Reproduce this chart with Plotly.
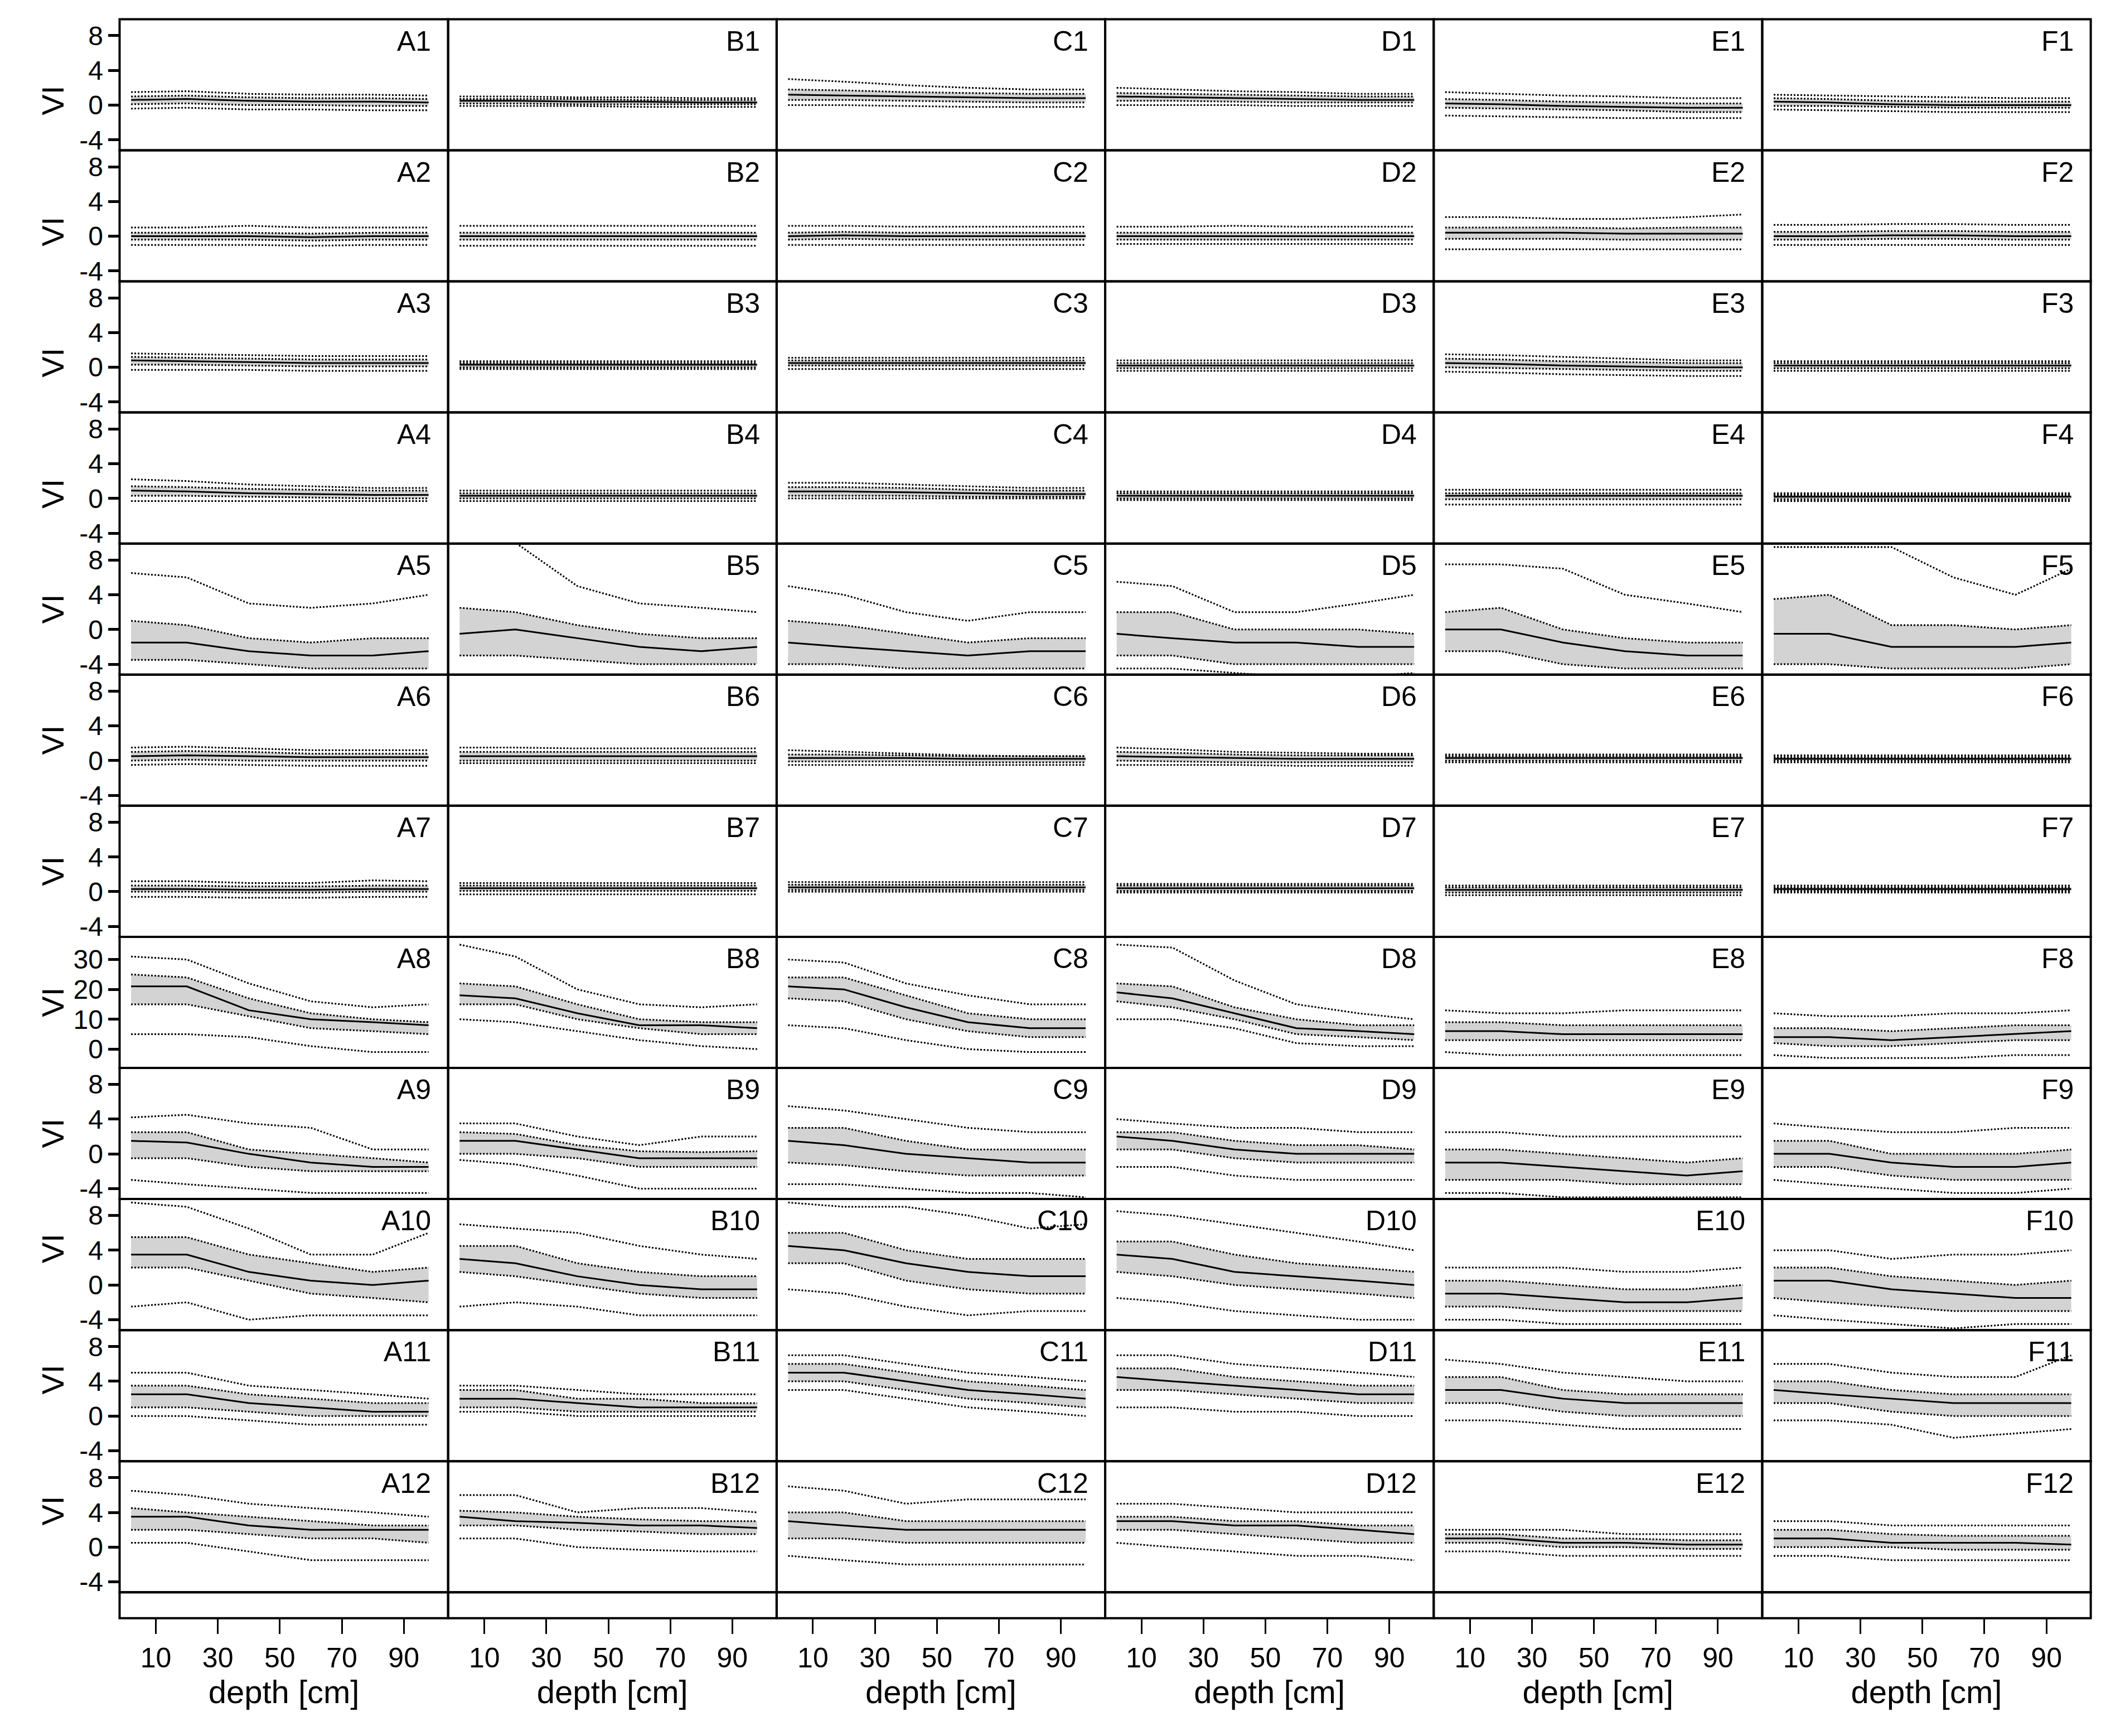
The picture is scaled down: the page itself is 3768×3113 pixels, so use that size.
import plotly.graph_objs as go

depth = [2, 20, 40, 60, 80, 98]
cols = ["A", "B", "C", "D", "E", "F"]
xticks = [10, 30, 50, 70, 90]

# median profile
med = {
    "A1": [0.6, 0.7, 0.5, 0.4, 0.4, 0.3], "B1": [0.5, 0.5, 0.4, 0.4, 0.3, 0.3],
    "C1": [1.2, 1.1, 1.0, 0.9, 0.8, 0.8], "D1": [1.0, 0.9, 0.8, 0.7, 0.6, 0.6],
    "E1": [0.2, 0.1, -0.1, -0.2, -0.3, -0.3], "F1": [0.4, 0.3, 0.1, 0.0, 0.0, 0.0],
    "A2": [0.0, 0.0, 0.0, -0.1, 0.0, 0.0], "B2": [0.0, 0.0, 0.0, 0.0, 0.0, 0.0],
    "C2": [0.0, 0.1, 0.0, 0.0, 0.0, 0.0], "D2": [0.0, 0.0, 0.0, 0.0, 0.0, 0.0],
    "E2": [0.4, 0.4, 0.4, 0.3, 0.3, 0.3], "F2": [0.0, 0.0, 0.1, 0.1, 0.0, 0.0],
    "A3": [0.8, 0.7, 0.6, 0.5, 0.5, 0.5], "B3": [0.3, 0.3, 0.3, 0.3, 0.3, 0.3],
    "C3": [0.5, 0.5, 0.5, 0.5, 0.5, 0.5], "D3": [0.2, 0.2, 0.2, 0.2, 0.2, 0.2],
    "E3": [0.5, 0.4, 0.2, 0.1, 0.0, 0.0], "F3": [0.2, 0.2, 0.2, 0.2, 0.2, 0.2],
    "A4": [0.9, 0.8, 0.6, 0.5, 0.4, 0.4], "B4": [0.3, 0.3, 0.3, 0.3, 0.3, 0.3],
    "C4": [0.8, 0.8, 0.7, 0.6, 0.5, 0.5], "D4": [0.3, 0.3, 0.3, 0.3, 0.3, 0.3],
    "E4": [0.3, 0.3, 0.3, 0.3, 0.3, 0.3], "F4": [0.2, 0.2, 0.2, 0.2, 0.2, 0.2],
    "A5": [-1.5, -1.5, -2.5, -3.0, -3.0, -2.5], "B5": [-0.5, 0.0, -1.0, -2.0, -2.5, -2.0],
    "C5": [-1.5, -2.0, -2.5, -3.0, -2.5, -2.5], "D5": [-0.5, -1.0, -1.5, -1.5, -2.0, -2.0],
    "E5": [0.0, 0.0, -1.5, -2.5, -3.0, -3.0], "F5": [-0.5, -0.5, -2.0, -2.0, -2.0, -1.5],
    "A6": [0.5, 0.6, 0.5, 0.4, 0.4, 0.4], "B6": [0.5, 0.5, 0.5, 0.5, 0.5, 0.5],
    "C6": [0.3, 0.3, 0.3, 0.2, 0.2, 0.2], "D6": [0.5, 0.4, 0.3, 0.2, 0.2, 0.2],
    "E6": [0.3, 0.3, 0.3, 0.3, 0.3, 0.3], "F6": [0.2, 0.2, 0.2, 0.2, 0.2, 0.2],
    "A7": [0.3, 0.3, 0.2, 0.2, 0.3, 0.3], "B7": [0.4, 0.4, 0.4, 0.4, 0.4, 0.4],
    "C7": [0.5, 0.5, 0.5, 0.5, 0.5, 0.5], "D7": [0.4, 0.4, 0.4, 0.4, 0.4, 0.4],
    "E7": [0.2, 0.2, 0.2, 0.2, 0.2, 0.2], "F7": [0.3, 0.3, 0.3, 0.3, 0.3, 0.3],
    "A8": [21, 21, 13, 10, 9, 8], "B8": [18, 17, 12, 8, 8, 7],
    "C8": [21, 20, 14, 9, 7, 7], "D8": [19, 17, 12, 7, 6, 5],
    "E8": [6, 6, 5, 5, 5, 5], "F8": [4, 4, 3, 4, 5, 6],
    "A9": [1.5, 1.3, 0.0, -1.0, -1.5, -1.5], "B9": [1.5, 1.5, 0.5, -0.5, -0.5, -0.5],
    "C9": [1.5, 1.0, 0.0, -0.5, -1.0, -1.0], "D9": [2.0, 1.5, 0.5, 0.0, 0.0, 0.0],
    "E9": [-1.0, -1.0, -1.5, -2.0, -2.5, -2.0], "F9": [0.0, 0.0, -1.0, -1.5, -1.5, -1.0],
    "A10": [3.5, 3.5, 1.5, 0.5, 0.0, 0.5], "B10": [3.0, 2.5, 1.0, 0.0, -0.5, -0.5],
    "C10": [4.5, 4.0, 2.5, 1.5, 1.0, 1.0], "D10": [3.5, 3.0, 1.5, 1.0, 0.5, 0.0],
    "E10": [-1.0, -1.0, -1.5, -2.0, -2.0, -1.5], "F10": [0.5, 0.5, -0.5, -1.0, -1.5, -1.5],
    "A11": [2.5, 2.5, 1.5, 1.0, 0.5, 0.5], "B11": [2.0, 2.0, 1.5, 1.0, 1.0, 1.0],
    "C11": [5.0, 5.0, 4.0, 3.0, 2.5, 2.0], "D11": [4.5, 4.0, 3.5, 3.0, 2.5, 2.5],
    "E11": [3.0, 3.0, 2.0, 1.5, 1.5, 1.5], "F11": [3.0, 2.5, 2.0, 1.5, 1.5, 1.5],
    "A12": [3.5, 3.5, 2.5, 2.0, 2.0, 2.0], "B12": [3.5, 3.0, 2.8, 2.5, 2.5, 2.2],
    "C12": [3.0, 2.5, 2.0, 2.0, 2.0, 2.0], "D12": [3.0, 3.0, 2.5, 2.5, 2.0, 1.5],
    "E12": [1.0, 1.0, 0.5, 0.5, 0.3, 0.3], "F12": [1.0, 1.0, 0.5, 0.5, 0.5, 0.3],
}

# lower quartile
q1 = {
    "A1": [0.1, 0.2, 0.0, 0.0, -0.1, -0.1], "B1": [0.2, 0.2, 0.1, 0.1, 0.1, 0.1],
    "C1": [0.6, 0.6, 0.5, 0.4, 0.3, 0.3], "D1": [0.5, 0.5, 0.4, 0.3, 0.3, 0.3],
    "E1": [-0.3, -0.4, -0.5, -0.6, -0.8, -0.8], "F1": [-0.1, -0.1, -0.2, -0.3, -0.3, -0.3],
    "A2": [-0.4, -0.4, -0.4, -0.5, -0.4, -0.4], "B2": [-0.4, -0.4, -0.4, -0.4, -0.4, -0.4],
    "C2": [-0.4, -0.3, -0.4, -0.4, -0.4, -0.4], "D2": [-0.4, -0.4, -0.4, -0.4, -0.4, -0.4],
    "E2": [-0.3, -0.3, -0.3, -0.4, -0.4, -0.4], "F2": [-0.4, -0.4, -0.3, -0.3, -0.4, -0.4],
    "A3": [0.3, 0.3, 0.2, 0.1, 0.1, 0.1], "B3": [0.0, 0.0, 0.0, 0.0, 0.0, 0.0],
    "C3": [0.2, 0.2, 0.2, 0.2, 0.2, 0.2], "D3": [-0.1, -0.1, -0.1, -0.1, -0.1, -0.1],
    "E3": [0.0, -0.1, -0.2, -0.3, -0.4, -0.4], "F3": [-0.1, -0.1, -0.1, -0.1, -0.1, -0.1],
    "A4": [0.3, 0.3, 0.2, 0.1, 0.0, 0.0], "B4": [0.0, 0.0, 0.0, 0.0, 0.0, 0.0],
    "C4": [0.3, 0.3, 0.3, 0.2, 0.2, 0.2], "D4": [0.0, 0.0, 0.0, 0.0, 0.0, 0.0],
    "E4": [-0.1, -0.1, -0.1, -0.1, -0.1, -0.1], "F4": [-0.1, -0.1, -0.1, -0.1, -0.1, -0.1],
    "A5": [-3.5, -3.5, -4.0, -4.5, -4.5, -4.5], "B5": [-3.0, -3.0, -3.5, -4.0, -4.0, -4.0],
    "C5": [-4.0, -4.0, -4.5, -4.5, -4.5, -4.5], "D5": [-3.0, -3.0, -4.0, -4.0, -4.0, -4.0],
    "E5": [-2.5, -2.5, -4.0, -4.5, -4.5, -4.5], "F5": [-4.0, -4.0, -4.5, -4.5, -4.5, -4.0],
    "A6": [0.0, 0.1, 0.0, 0.0, 0.0, 0.0], "B6": [0.0, 0.0, 0.0, 0.0, 0.0, 0.0],
    "C6": [-0.1, -0.1, -0.1, -0.2, -0.2, -0.2], "D6": [0.0, -0.1, -0.2, -0.2, -0.2, -0.2],
    "E6": [0.0, 0.0, 0.0, 0.0, 0.0, 0.0], "F6": [0.0, 0.0, 0.0, 0.0, 0.0, 0.0],
    "A7": [0.0, 0.0, -0.1, -0.1, 0.0, 0.0], "B7": [0.1, 0.1, 0.1, 0.1, 0.1, 0.1],
    "C7": [0.2, 0.2, 0.2, 0.2, 0.2, 0.2], "D7": [0.1, 0.1, 0.1, 0.1, 0.1, 0.1],
    "E7": [-0.1, -0.1, -0.1, -0.1, -0.1, -0.1], "F7": [0.1, 0.1, 0.1, 0.1, 0.1, 0.1],
    "A8": [15, 15, 11, 7, 6, 5], "B8": [15, 15, 10, 7, 5, 5],
    "C8": [17, 16, 10, 6, 4, 4], "D8": [16, 14, 10, 5, 4, 3],
    "E8": [3, 3, 3, 3, 3, 3], "F8": [2, 1, 1, 2, 3, 3],
    "A9": [-0.5, -0.5, -1.5, -2.0, -2.0, -2.0], "B9": [0.0, 0.0, -0.5, -1.5, -1.5, -1.5],
    "C9": [-1.0, -1.3, -2.0, -2.5, -2.5, -2.5], "D9": [0.5, 0.5, -0.5, -1.0, -1.0, -1.0],
    "E9": [-3.0, -3.0, -3.0, -3.5, -3.5, -3.5], "F9": [-1.5, -1.5, -2.5, -3.0, -3.0, -3.0],
    "A10": [2.0, 2.0, 0.5, -1.0, -1.5, -2.0], "B10": [1.5, 1.0, 0.0, -1.0, -1.5, -1.5],
    "C10": [2.5, 2.5, 0.5, -0.5, -1.0, -1.0], "D10": [1.5, 1.0, 0.0, -0.5, -1.0, -1.5],
    "E10": [-2.5, -2.5, -3.0, -3.0, -3.0, -3.0], "F10": [-1.5, -2.0, -2.5, -3.0, -3.0, -3.0],
    "A11": [1.0, 1.0, 0.5, 0.0, 0.0, 0.0], "B11": [1.0, 1.0, 0.5, 0.5, 0.5, 0.5],
    "C11": [4.0, 4.0, 3.0, 2.0, 1.5, 1.0], "D11": [3.0, 3.0, 2.5, 2.0, 1.5, 1.5],
    "E11": [1.5, 1.5, 0.5, 0.0, 0.0, 0.0], "F11": [1.5, 1.5, 0.5, 0.0, 0.0, 0.0],
    "A12": [2.0, 2.0, 1.5, 1.0, 1.0, 0.5], "B12": [2.5, 2.5, 2.0, 1.8, 1.5, 1.5],
    "C12": [1.0, 1.0, 0.5, 0.5, 0.5, 0.5], "D12": [2.0, 2.0, 1.5, 1.0, 0.5, 0.5],
    "E12": [0.5, 0.5, 0.0, 0.0, -0.2, -0.2], "F12": [0.0, 0.0, 0.0, -0.3, -0.3, -0.3],
}

# upper quartile
q3 = {
    "A1": [1.0, 1.1, 0.9, 0.8, 0.8, 0.7], "B1": [0.7, 0.7, 0.7, 0.6, 0.6, 0.6],
    "C1": [1.8, 1.7, 1.5, 1.4, 1.3, 1.3], "D1": [1.4, 1.3, 1.2, 1.1, 1.0, 1.0],
    "E1": [0.7, 0.6, 0.4, 0.3, 0.2, 0.2], "F1": [0.8, 0.7, 0.5, 0.4, 0.4, 0.4],
    "A2": [0.4, 0.4, 0.4, 0.3, 0.4, 0.4], "B2": [0.4, 0.4, 0.4, 0.4, 0.4, 0.4],
    "C2": [0.4, 0.5, 0.4, 0.4, 0.4, 0.4], "D2": [0.4, 0.4, 0.4, 0.4, 0.4, 0.4],
    "E2": [1.0, 1.0, 1.0, 0.9, 1.0, 1.0], "F2": [0.5, 0.5, 0.6, 0.6, 0.5, 0.5],
    "A3": [1.2, 1.1, 1.0, 0.9, 0.9, 0.9], "B3": [0.5, 0.5, 0.5, 0.5, 0.5, 0.5],
    "C3": [0.8, 0.8, 0.8, 0.8, 0.8, 0.8], "D3": [0.5, 0.5, 0.5, 0.5, 0.5, 0.5],
    "E3": [1.0, 0.9, 0.7, 0.6, 0.5, 0.5], "F3": [0.5, 0.5, 0.5, 0.5, 0.5, 0.5],
    "A4": [1.4, 1.3, 1.1, 1.0, 0.9, 0.9], "B4": [0.6, 0.6, 0.6, 0.6, 0.6, 0.6],
    "C4": [1.3, 1.3, 1.2, 1.0, 0.9, 0.9], "D4": [0.6, 0.6, 0.6, 0.6, 0.6, 0.6],
    "E4": [0.6, 0.6, 0.6, 0.6, 0.6, 0.6], "F4": [0.4, 0.4, 0.4, 0.4, 0.4, 0.4],
    "A5": [1.0, 0.5, -1.0, -1.5, -1.0, -1.0], "B5": [2.5, 2.0, 0.5, -0.5, -1.0, -1.0],
    "C5": [1.0, 0.5, -0.5, -1.5, -1.0, -1.0], "D5": [2.0, 2.0, 0.0, 0.0, 0.0, -0.5],
    "E5": [2.0, 2.5, 0.0, -1.0, -1.5, -1.5], "F5": [3.5, 4.0, 0.5, 0.5, 0.0, 0.5],
    "A6": [1.0, 1.1, 1.0, 0.8, 0.8, 0.8], "B6": [1.0, 1.0, 1.0, 1.0, 1.0, 1.0],
    "C6": [0.7, 0.7, 0.6, 0.5, 0.5, 0.5], "D6": [1.0, 0.9, 0.7, 0.6, 0.6, 0.6],
    "E6": [0.5, 0.5, 0.5, 0.5, 0.5, 0.5], "F6": [0.4, 0.4, 0.4, 0.4, 0.4, 0.4],
    "A7": [0.7, 0.7, 0.6, 0.6, 0.7, 0.7], "B7": [0.7, 0.7, 0.7, 0.7, 0.7, 0.7],
    "C7": [0.8, 0.8, 0.8, 0.8, 0.8, 0.8], "D7": [0.7, 0.7, 0.7, 0.7, 0.7, 0.7],
    "E7": [0.5, 0.5, 0.5, 0.5, 0.5, 0.5], "F7": [0.5, 0.5, 0.5, 0.5, 0.5, 0.5],
    "A8": [25, 24, 17, 12, 10, 9], "B8": [22, 21, 15, 10, 9, 9],
    "C8": [24, 24, 18, 12, 10, 10], "D8": [22, 21, 14, 10, 8, 8],
    "E8": [9, 9, 8, 8, 8, 8], "F8": [7, 7, 6, 7, 8, 8],
    "A9": [2.5, 2.5, 0.5, 0.0, -0.5, -1.0], "B9": [2.5, 2.3, 1.0, 0.3, 0.2, 0.3],
    "C9": [3.0, 3.0, 1.5, 0.5, 0.5, 0.5], "D9": [2.5, 2.5, 1.5, 1.0, 1.0, 0.5],
    "E9": [0.5, 0.5, 0.0, -0.5, -1.0, -0.5], "F9": [1.5, 1.5, 0.0, 0.0, 0.0, 0.5],
    "A10": [5.5, 5.5, 3.5, 2.5, 1.5, 2.0], "B10": [4.5, 4.5, 2.5, 1.5, 1.0, 1.0],
    "C10": [6.0, 6.0, 4.0, 3.0, 3.0, 3.0], "D10": [5.0, 5.0, 3.5, 2.5, 2.0, 1.5],
    "E10": [0.5, 0.5, 0.0, -0.5, -0.5, 0.0], "F10": [2.0, 2.0, 1.0, 0.5, 0.0, 0.5],
    "A11": [3.5, 3.5, 2.5, 2.0, 1.5, 1.5], "B11": [3.0, 3.0, 2.0, 2.0, 1.5, 1.5],
    "C11": [6.0, 6.0, 5.0, 4.0, 3.5, 3.0], "D11": [5.5, 5.5, 4.5, 4.0, 3.5, 3.5],
    "E11": [4.5, 4.5, 3.0, 2.5, 2.5, 2.5], "F11": [4.0, 4.0, 3.0, 2.5, 2.5, 2.5],
    "A12": [4.5, 4.0, 3.5, 3.0, 2.5, 2.5], "B12": [4.2, 4.0, 3.5, 3.2, 3.0, 3.0],
    "C12": [4.0, 4.0, 3.0, 3.0, 3.0, 3.0], "D12": [3.5, 3.5, 3.0, 3.0, 2.5, 2.5],
    "E12": [1.5, 1.5, 1.0, 1.0, 0.8, 0.8], "F12": [2.0, 2.0, 1.5, 1.3, 1.3, 1.3],
}

# lower whisker (dotted)
lo = {
    "A1": [-0.4, -0.3, -0.5, -0.5, -0.6, -0.6], "B1": [-0.1, -0.1, -0.1, -0.2, -0.2, -0.2],
    "C1": [0.0, 0.0, -0.1, -0.2, -0.2, -0.2], "D1": [0.0, 0.0, 0.0, -0.1, -0.1, -0.1],
    "E1": [-1.2, -1.3, -1.4, -1.5, -1.5, -1.5], "F1": [-0.5, -0.6, -0.7, -0.8, -0.8, -0.8],
    "A2": [-1.0, -1.0, -1.0, -1.1, -1.0, -1.0], "B2": [-1.1, -1.1, -1.1, -1.1, -1.1, -1.1],
    "C2": [-1.0, -1.0, -1.0, -1.0, -1.0, -1.0], "D2": [-0.9, -0.9, -0.9, -0.9, -0.9, -0.9],
    "E2": [-1.5, -1.5, -1.5, -1.5, -1.5, -1.5], "F2": [-1.0, -1.0, -1.0, -1.0, -1.0, -1.0],
    "A3": [-0.3, -0.3, -0.3, -0.4, -0.4, -0.4], "B3": [-0.2, -0.2, -0.2, -0.2, -0.2, -0.2],
    "C3": [-0.2, -0.2, -0.2, -0.2, -0.2, -0.2], "D3": [-0.4, -0.4, -0.4, -0.4, -0.4, -0.4],
    "E3": [-0.5, -0.6, -0.8, -0.9, -1.0, -1.0], "F3": [-0.4, -0.4, -0.4, -0.4, -0.4, -0.4],
    "A4": [-0.3, -0.3, -0.3, -0.3, -0.3, -0.3], "B4": [-0.3, -0.3, -0.3, -0.3, -0.3, -0.3],
    "C4": [0.0, 0.0, 0.0, 0.0, 0.0, 0.0], "D4": [-0.2, -0.2, -0.2, -0.2, -0.2, -0.2],
    "E4": [-0.7, -0.7, -0.7, -0.7, -0.7, -0.7], "F4": [-0.3, -0.3, -0.3, -0.3, -0.3, -0.3],
    "A5": [-5.5, -5.5, -5.5, -5.5, -5.5, -5.5], "B5": [-6.0, -6.0, -6.0, -6.0, -6.0, -6.0],
    "C5": [-6.0, -6.0, -6.0, -6.0, -6.0, -6.0], "D5": [-4.5, -4.5, -5.0, -5.5, -5.5, -5.0],
    "E5": [-5.5, -5.5, -5.5, -5.5, -5.5, -5.5], "F5": [-5.5, -5.5, -5.5, -5.5, -5.5, -5.5],
    "A6": [-0.5, -0.4, -0.5, -0.6, -0.6, -0.6], "B6": [-0.3, -0.3, -0.3, -0.3, -0.3, -0.3],
    "C6": [-0.5, -0.5, -0.5, -0.5, -0.5, -0.5], "D6": [-0.5, -0.5, -0.5, -0.6, -0.6, -0.6],
    "E6": [-0.2, -0.2, -0.2, -0.2, -0.2, -0.2], "F6": [-0.2, -0.2, -0.2, -0.2, -0.2, -0.2],
    "A7": [-0.6, -0.6, -0.7, -0.7, -0.6, -0.6], "B7": [-0.3, -0.3, -0.3, -0.3, -0.3, -0.3],
    "C7": [0.0, 0.0, 0.0, 0.0, 0.0, 0.0], "D7": [-0.1, -0.1, -0.1, -0.1, -0.1, -0.1],
    "E7": [-0.4, -0.4, -0.4, -0.4, -0.4, -0.4], "F7": [-0.1, -0.1, -0.1, -0.1, -0.1, -0.1],
    "A8": [5, 5, 4, 1, -1, -1], "B8": [10, 9, 6, 3, 1, 0],
    "C8": [8, 7, 3, 0, -1, -1], "D8": [10, 10, 7, 2, 1, 1],
    "E8": [-1, -2, -2, -2, -2, -2], "F8": [-2, -3, -3, -3, -2, -2],
    "A9": [-3.0, -3.5, -4.0, -4.5, -4.5, -4.5], "B9": [-0.7, -1.2, -2.5, -4.0, -4.0, -4.0],
    "C9": [-3.5, -3.5, -4.0, -4.5, -4.5, -5.0], "D9": [-1.5, -1.5, -2.5, -3.0, -3.0, -3.0],
    "E9": [-4.5, -4.5, -5.0, -5.0, -5.0, -5.0], "F9": [-3.0, -3.5, -4.0, -4.5, -4.5, -4.0],
    "A10": [-2.5, -2.0, -4.0, -3.5, -3.5, -3.5], "B10": [-2.5, -2.0, -2.5, -3.5, -3.5, -3.5],
    "C10": [-0.5, -1.0, -2.5, -3.5, -3.0, -3.0], "D10": [-1.5, -2.0, -3.0, -3.5, -4.0, -4.0],
    "E10": [-4.0, -4.0, -4.5, -4.5, -4.5, -4.5], "F10": [-3.5, -4.0, -4.5, -5.0, -4.5, -4.5],
    "A11": [0.0, 0.0, -0.5, -1.0, -1.0, -1.0], "B11": [0.5, 0.5, 0.0, 0.0, 0.0, 0.0],
    "C11": [3.0, 3.0, 2.0, 1.0, 0.5, 0.0], "D11": [1.0, 1.0, 0.5, 0.5, 0.0, 0.0],
    "E11": [-0.5, -0.5, -1.0, -1.5, -1.5, -1.5], "F11": [-0.5, -0.5, -1.0, -2.5, -2.0, -1.5],
    "A12": [0.5, 0.5, -0.5, -1.5, -1.5, -1.5], "B12": [1.0, 1.0, 0.0, -0.3, -0.5, -0.5],
    "C12": [-1.0, -1.5, -2.0, -2.0, -2.0, -2.0], "D12": [0.5, 0.0, -0.5, -1.0, -1.0, -1.5],
    "E12": [-0.5, -0.5, -1.0, -1.0, -1.0, -1.0], "F12": [-1.0, -1.0, -1.5, -1.5, -1.5, -1.5],
}

# upper whisker (dotted)
hi = {
    "A1": [1.5, 1.6, 1.3, 1.2, 1.2, 1.1], "B1": [1.0, 1.0, 0.9, 0.9, 0.8, 0.8],
    "C1": [3.0, 2.7, 2.3, 2.0, 1.8, 1.8], "D1": [2.0, 1.8, 1.6, 1.5, 1.3, 1.3],
    "E1": [1.5, 1.3, 1.1, 1.0, 0.8, 0.8], "F1": [1.2, 1.1, 1.0, 0.9, 0.8, 0.8],
    "A2": [1.0, 1.0, 1.2, 1.0, 1.0, 1.0], "B2": [1.2, 1.2, 1.2, 1.2, 1.2, 1.2],
    "C2": [1.2, 1.2, 1.1, 1.1, 1.1, 1.1], "D2": [1.1, 1.1, 1.2, 1.1, 1.1, 1.1],
    "E2": [2.2, 2.2, 2.0, 2.0, 2.2, 2.5], "F2": [1.3, 1.3, 1.4, 1.4, 1.3, 1.3],
    "A3": [1.6, 1.5, 1.4, 1.3, 1.3, 1.3], "B3": [0.7, 0.7, 0.7, 0.7, 0.7, 0.7],
    "C3": [1.1, 1.1, 1.1, 1.1, 1.1, 1.1], "D3": [0.8, 0.8, 0.8, 0.8, 0.8, 0.8],
    "E3": [1.5, 1.4, 1.2, 1.0, 0.8, 0.8], "F3": [0.7, 0.7, 0.7, 0.7, 0.7, 0.7],
    "A4": [2.2, 2.0, 1.6, 1.4, 1.2, 1.2], "B4": [0.9, 0.9, 0.9, 0.9, 0.9, 0.9],
    "C4": [1.8, 1.8, 1.6, 1.4, 1.2, 1.2], "D4": [0.8, 0.8, 0.8, 0.8, 0.8, 0.8],
    "E4": [1.0, 1.0, 1.0, 1.0, 1.0, 1.0], "F4": [0.6, 0.6, 0.6, 0.6, 0.6, 0.6],
    "A5": [6.5, 6.0, 3.0, 2.5, 3.0, 4.0], "B5": [10.0, 10.0, 5.0, 3.0, 2.5, 2.0],
    "C5": [5.0, 4.0, 2.0, 1.0, 2.0, 2.0], "D5": [5.5, 5.0, 2.0, 2.0, 3.0, 4.0],
    "E5": [7.5, 7.5, 7.0, 4.0, 3.0, 2.0], "F5": [9.5, 9.5, 9.5, 6.0, 4.0, 7.0],
    "A6": [1.5, 1.6, 1.4, 1.2, 1.2, 1.2], "B6": [1.5, 1.5, 1.4, 1.4, 1.4, 1.4],
    "C6": [1.2, 1.0, 0.8, 0.6, 0.5, 0.5], "D6": [1.5, 1.3, 1.0, 0.9, 0.8, 0.8],
    "E6": [0.7, 0.7, 0.7, 0.7, 0.7, 0.7], "F6": [0.6, 0.6, 0.6, 0.6, 0.6, 0.6],
    "A7": [1.2, 1.2, 1.0, 1.0, 1.3, 1.2], "B7": [1.0, 1.0, 1.0, 1.0, 1.0, 1.0],
    "C7": [1.1, 1.1, 1.1, 1.1, 1.1, 1.1], "D7": [0.9, 0.9, 0.9, 0.9, 0.9, 0.9],
    "E7": [0.7, 0.7, 0.7, 0.7, 0.7, 0.7], "F7": [0.7, 0.7, 0.7, 0.7, 0.7, 0.7],
    "A8": [31, 30, 22, 16, 14, 15], "B8": [35, 31, 20, 15, 14, 15],
    "C8": [30, 29, 22, 18, 15, 15], "D8": [35, 34, 23, 15, 12, 10],
    "E8": [13, 12, 12, 13, 13, 13], "F8": [12, 11, 11, 12, 12, 13],
    "A9": [4.2, 4.5, 3.5, 3.0, 0.5, 0.5], "B9": [3.5, 3.5, 2.0, 1.0, 2.0, 2.0],
    "C9": [5.5, 5.0, 4.0, 3.0, 2.5, 2.5], "D9": [4.0, 3.5, 3.0, 3.0, 2.5, 2.5],
    "E9": [2.5, 2.5, 2.0, 2.0, 2.0, 2.0], "F9": [3.5, 3.0, 2.5, 2.5, 3.0, 3.0],
    "A10": [9.5, 9.0, 6.5, 3.5, 3.5, 6.0], "B10": [7.0, 6.5, 6.0, 4.5, 3.5, 3.0],
    "C10": [9.5, 9.0, 9.0, 8.0, 6.5, 7.0], "D10": [8.5, 8.0, 7.0, 6.0, 5.0, 4.0],
    "E10": [2.0, 2.0, 2.0, 1.5, 1.5, 2.0], "F10": [4.0, 4.0, 3.0, 3.5, 3.5, 4.0],
    "A11": [5.0, 5.0, 3.5, 3.0, 2.5, 2.0], "B11": [3.5, 3.5, 3.0, 2.5, 2.5, 2.5],
    "C11": [7.0, 7.0, 6.0, 5.0, 4.5, 4.0], "D11": [7.0, 7.0, 6.0, 5.5, 5.0, 4.5],
    "E11": [6.5, 6.0, 5.0, 4.5, 4.0, 4.0], "F11": [6.0, 6.0, 5.0, 4.5, 4.5, 7.0],
    "A12": [6.5, 6.0, 5.0, 4.5, 4.0, 3.5], "B12": [6.0, 6.0, 4.0, 4.5, 4.5, 4.0],
    "C12": [7.0, 6.5, 5.0, 5.5, 5.5, 5.5], "D12": [5.0, 5.0, 4.5, 4.0, 4.0, 4.0],
    "E12": [2.0, 2.0, 2.0, 1.5, 1.5, 1.5], "F12": [3.0, 3.0, 2.5, 2.5, 2.5, 2.5],
}

W, H = 3768, 3113
FONT = "Liberation Sans"
x0, x1 = 0.0548, 0.993
ytop, ybot, ystrip = 0.9915, 0.083, 0.068
cw = (x1 - x0) / 6
rh = (ytop - ybot) / 12
xr = [-1.7, 104.3]

fig = go.Figure()
layout = {}
shapes = []
annots = []

for r in range(12):
    row = r + 1
    yd = [ytop - (r + 1) * rh, ytop - r * rh]
    if row == 8:
        yrange, yticks = [-6.3, 37.6], [0, 10, 20, 30]
    else:
        yrange, yticks = [-5.2, 9.9], [-4, 0, 4, 8]
    for c in range(6):
        k = r * 6 + c + 1
        name = f"{cols[c]}{row}"
        xa, ya = f"x{k}", f"y{k}"
        xd = [x0 + c * cw, x0 + (c + 1) * cw]
        layout[f"xaxis{k}"] = dict(domain=xd, range=xr, anchor=ya, showticklabels=False,
                                   ticks="", showgrid=False, zeroline=False, showline=False)
        layout[f"yaxis{k}"] = dict(domain=yd, range=yrange, anchor=xa, showgrid=False,
                                   zeroline=False, showline=False,
                                   tickvals=yticks if c == 0 else None,
                                   ticktext=[str(v) for v in yticks] if c == 0 else None,
                                   ticks="outside" if c == 0 else "",
                                   ticklen=19, tickwidth=5, tickcolor="black",
                                   showticklabels=(c == 0),
                                   tickfont=dict(family=FONT, size=48, color="black"))
        # IQR band
        fig.add_trace(go.Scatter(x=depth, y=q1[name], xaxis=xa, yaxis=ya, mode="lines",
                                 line=dict(color="black", width=3, dash="dot"), showlegend=False))
        fig.add_trace(go.Scatter(x=depth, y=q3[name], xaxis=xa, yaxis=ya, mode="lines",
                                 fill="tonexty", fillcolor="#d3d3d3",
                                 line=dict(color="black", width=3, dash="dot"), showlegend=False))
        for s in (lo, hi):
            fig.add_trace(go.Scatter(x=depth, y=s[name], xaxis=xa, yaxis=ya, mode="lines",
                                     line=dict(color="black", width=3, dash="dot"), showlegend=False))
        fig.add_trace(go.Scatter(x=depth, y=med[name], xaxis=xa, yaxis=ya, mode="lines",
                                 line=dict(color="black", width=3), showlegend=False))
        annots.append(dict(x=xd[1] - 0.0075, y=yd[1] - 0.003, xref="paper", yref="paper",
                           text=name, showarrow=False, xanchor="right", yanchor="top",
                           font=dict(family=FONT, size=50, color="black")))
        shapes.append(dict(type="rect", xref="paper", yref="paper", x0=xd[0], x1=xd[1],
                           y0=yd[0], y1=yd[1], line=dict(color="black", width=4)))
    annots.append(dict(x=0.014, y=(yd[0] + yd[1]) / 2, xref="paper", yref="paper",
                       text="VI", textangle=-90, showarrow=False,
                       font=dict(family=FONT, size=56, color="black")))

# bottom strip carrying the depth axis
for c in range(6):
    k = 73 + c
    xd = [x0 + c * cw, x0 + (c + 1) * cw]
    layout[f"xaxis{k}"] = dict(domain=xd, range=xr, anchor=f"y{k}", tickvals=xticks,
                               ticks="outside", ticklen=27, tickwidth=3, tickcolor="black",
                               showgrid=False, zeroline=False, showline=False,
                               tickfont=dict(family=FONT, size=50, color="black"),
                               title=dict(text="depth [cm]", standoff=8,
                                          font=dict(family=FONT, size=58, color="black")))
    layout[f"yaxis{k}"] = dict(domain=[ystrip, ybot], range=[0, 1], anchor=f"x{k}",
                               visible=False)
    fig.add_trace(go.Scatter(x=[50], y=[-5], xaxis=f"x{k}", yaxis=f"y{k}", mode="markers",
                             marker=dict(opacity=0), showlegend=False, hoverinfo="skip"))
    shapes.append(dict(type="rect", xref="paper", yref="paper", x0=xd[0], x1=xd[1],
                       y0=ystrip, y1=ybot, line=dict(color="black", width=4)))

fig.update_layout(**layout)
fig.update_layout(width=W, height=H, margin=dict(l=0, r=0, t=0, b=0),
                  plot_bgcolor="white", paper_bgcolor="white",
                  shapes=shapes, annotations=annots, showlegend=False)
fig.write_html("out.html")
